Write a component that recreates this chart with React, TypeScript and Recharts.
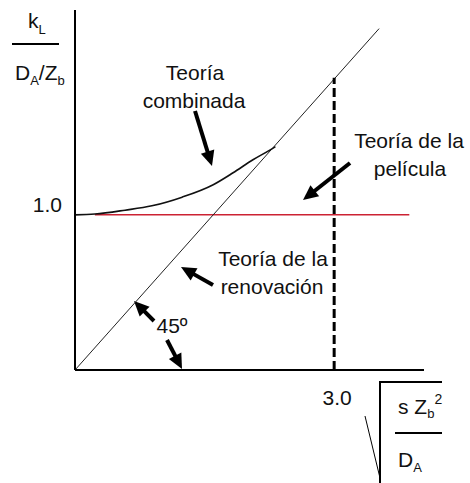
import React from "react";
import { ComposedChart, Line, XAxis, YAxis, Customized } from "recharts";

// axis extents (dimensionless groups)
const xMax = 4.04;
const yMax = 2.32;

// tick labels
const xTicks = [3];
const yTicks = [1];

// renovation theory: straight line through the origin
const renovacion = [
  { x: 0, y: 0 },
  { x: 3.52, y: 2.2 },
];

// film theory: constant ratio of 1.0
const pelicula = [
  { x: 0.23, y: 1 },
  { x: 3.87, y: 1 },
];

// combined theory curve
const combinada = [
  { x: 0, y: 1 },
  { x: 0.23, y: 1.005 },
  { x: 0.58, y: 1.03 },
  { x: 0.89, y: 1.058 },
  { x: 1.24, y: 1.114 },
  { x: 1.6, y: 1.194 },
  { x: 1.83, y: 1.271 },
  { x: 2.06, y: 1.355 },
  { x: 2.26, y: 1.419 },
  { x: 2.32, y: 1.44 },
];

// vertical marker at x = 3.0
const marcador = [
  { x: 3, y: 0 },
  { x: 3, y: 1.884 },
];

const W = 470;
const H = 483;
const FONT = "'Liberation Sans', Arial, sans-serif";

const Arrow = ({ x1, y1, x2, y2 }: { x1: number; y1: number; x2: number; y2: number }) => {
  const dx = x2 - x1;
  const dy = y2 - y1;
  const len = Math.hypot(dx, dy);
  const ux = dx / len;
  const uy = dy / len;
  const head = 15;
  const half = 7;
  const bx = x2 - ux * head;
  const by = y2 - uy * head;
  const pts = `${x2},${y2} ${bx - uy * half},${by + ux * half} ${bx + uy * half},${by - ux * half}`;
  return (
    <g>
      <line x1={x1} y1={y1} x2={bx + ux * 2} y2={by + uy * 2} stroke="#000" strokeWidth={4} />
      <polygon points={pts} fill="#000" />
    </g>
  );
};

const Label = ({ x, y, children }: { x: number; y: number; children: React.ReactNode }) => (
  <text x={x} y={y} textAnchor="middle" fontFamily={FONT} fontSize={21} fill="#111">
    {children}
  </text>
);

const Annotations = () => (
  <g>
    {/* y axis title: kL / (DA/zb) */}
    <text x={28} y={28} fontFamily={FONT} fontSize={21} fill="#111">
      k<tspan fontSize={13} dy={6}>L</tspan>
    </text>
    <line x1={12} y1={44} x2={59} y2={44} stroke="#000" strokeWidth={2} />
    <text x={15} y={80} fontFamily={FONT} fontSize={21} fill="#111">
      D<tspan fontSize={13} dy={5}>A</tspan>
      <tspan dy={-5}>/Z</tspan>
      <tspan fontSize={13} dy={5}>b</tspan>
    </text>

    {/* x axis title under a radical sign */}
    <polyline points="365,416 380,478 380,483" fill="none" stroke="#000" strokeWidth={1} />
    <polyline points="380,483 380,382 442,382" fill="none" stroke="#000" strokeWidth={2} />
    <text x={398} y={414} fontFamily={FONT} fontSize={21} fill="#111">
      s Z<tspan fontSize={13} dy={4}>b</tspan>
      <tspan fontSize={14} dy={-14}>2</tspan>
    </text>
    <line x1={395} y1={433} x2={442} y2={433} stroke="#000" strokeWidth={2} />
    <text x={398} y={467} fontFamily={FONT} fontSize={21} fill="#111">
      D<tspan fontSize={13} dy={5}>A</tspan>
    </text>

    <Label x={195} y={80}>Teoría</Label>
    <Label x={194} y={108}>combinada</Label>
    <Label x={409} y={148}>Teoría de la</Label>
    <Label x={410} y={176}>película</Label>
    <Label x={273} y={266}>Teoría de la</Label>
    <Label x={272} y={294}>renovación</Label>
    <Label x={172} y={333}>45º</Label>

    <Arrow x1={195} y1={111} x2={212} y2={166} />
    <Arrow x1={350} y1={163} x2={303} y2={200} />
    <Arrow x1={213} y1={285} x2={181} y2={267} />
    <Arrow x1={154} y1={321} x2={134} y2={301} />
    <Arrow x1={167} y1={340} x2={182} y2={369} />
  </g>
);

export default function App() {
  return (
    <div style={{ position: "absolute", left: 0, top: 0, width: W, height: H, background: "#fff" }}>
      <ComposedChart width={W} height={H} margin={{ top: 10, right: 46, bottom: 0, left: 0 }}>
        <XAxis
          type="number"
          dataKey="x"
          domain={[0, xMax]}
          ticks={xTicks}
          tickFormatter={(v: number) => v.toFixed(1)}
          height={113}
          axisLine={{ stroke: "#000", strokeWidth: 2 }}
          tickLine={false}
          tickSize={0}
          tickMargin={20}
          dx={3}
          allowDataOverflow
          tick={{ fill: "#111", fontSize: 21, fontFamily: FONT }}
        />
        <YAxis
          type="number"
          dataKey="y"
          domain={[0, yMax]}
          ticks={yTicks}
          tickFormatter={(v: number) => v.toFixed(1)}
          width={75}
          axisLine={{ stroke: "#000", strokeWidth: 2 }}
          tickLine={false}
          tickSize={0}
          tickMargin={13}
          dy={-10}
          allowDataOverflow
          tick={{ fill: "#111", fontSize: 21, fontFamily: FONT }}
        />
        <Line data={pelicula} dataKey="y" stroke="#cc2233" strokeWidth={1.5} dot={false} isAnimationActive={false} />
        <Line data={renovacion} dataKey="y" stroke="#222" strokeWidth={1} dot={false} isAnimationActive={false} />
        <Line data={combinada} dataKey="y" type="monotone" stroke="#111" strokeWidth={1.6} dot={false} isAnimationActive={false} />
        <Line data={marcador} dataKey="y" stroke="#000" strokeWidth={3} strokeDasharray="9 4" dot={false} isAnimationActive={false} />
        <Customized component={Annotations} />
      </ComposedChart>
    </div>
  );
}
